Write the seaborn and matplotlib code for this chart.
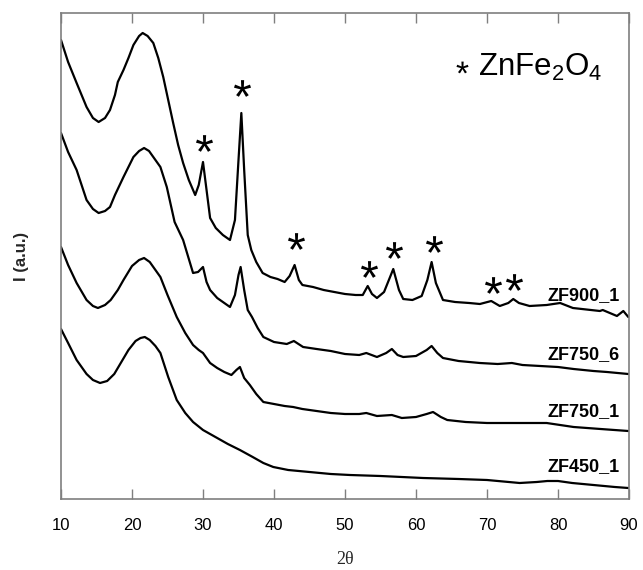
import matplotlib
matplotlib.use("Agg")
import matplotlib.pyplot as plt
import seaborn as sns
import numpy as np
import pandas as pd

# ---------------- data ----------------
tt_900_1 = [10.0, 11.0, 12.2, 13.6, 14.5, 15.3, 16.2, 16.9, 17.6, 18.0, 18.8, 19.5, 20.2, 21.0, 21.5,
            22.2, 23.0, 23.7, 24.4, 25.1, 25.8, 26.5, 27.2, 28.0, 28.9, 29.4, 30.0, 30.5, 31.0, 31.8,
            32.8, 33.8, 34.5, 35.0, 35.4, 35.8, 36.3, 36.8, 37.5, 38.4, 39.5, 40.5, 41.5, 42.2, 42.9,
            43.5, 44.0, 45.5, 47.0, 48.5, 50.0, 51.5, 52.5, 53.2, 53.8, 54.5, 55.5, 56.8, 57.6, 58.2,
            59.5, 60.8, 61.6, 62.2, 62.8, 63.8, 65.5, 67.5, 69.0, 70.6, 71.8, 73.0, 73.7, 74.5, 76.0,
            78.4, 80.3, 82.1, 85.9, 86.3, 88.3, 89.2, 89.9]
ypx_900_1 = [40, 62, 83, 107, 118, 122, 118, 110, 95, 82, 70, 58, 45, 36, 33,
             36, 43, 58, 77, 100, 123, 145, 163, 180, 195, 185, 162, 190, 218, 228,
             235, 240, 220, 160, 113, 170, 235, 250, 262, 273, 277, 279, 282, 276, 265,
             280, 285, 287, 290, 292, 294, 295, 295, 286, 294, 298, 292, 269, 290, 299,
             300, 296, 280, 262, 283, 300, 302, 303, 304, 301, 306, 303, 299, 303, 306,
             305, 303, 308, 311, 310, 316, 311, 317]

tt_750_6 = [10.0, 11.0, 12.2, 13.6, 14.5, 15.3, 16.2, 16.9, 17.6, 18.8, 20.2, 21.0, 21.7, 22.4, 23.3,
            24.0, 24.9, 26.0, 27.2, 28.6, 29.3, 30.0, 30.5, 31.0, 32.0, 33.0, 33.8, 34.5, 35.0, 35.3,
            35.8, 36.3, 36.9, 37.7, 38.5, 40.0, 41.8, 42.8, 44.1, 46.0, 48.0, 50.0, 52.0, 53.0, 54.5,
            55.8, 56.6, 57.4, 58.2, 60.0, 61.5, 62.2, 63.0, 63.8, 66.0, 69.0, 71.5, 73.5, 75.0, 77.5,
            80.0, 82.2, 85.0, 86.9, 89.9]
ypx_750_6 = [133, 152, 170, 200, 209, 213, 211, 207, 195, 177, 157, 151, 148, 151, 160,
             167, 187, 222, 240, 273, 272, 267, 282, 290, 298, 303, 307, 295, 275, 267,
             290, 310, 317, 328, 337, 342, 344, 341, 347, 349, 351, 354, 355, 353, 357,
             353, 349, 355, 357, 356, 350, 346, 353, 358, 361, 363, 364, 363, 365, 366,
             367, 369, 371, 372, 374]

tt_750_1 = [10.0, 11.0, 12.2, 13.6, 14.5, 15.2, 16.2, 17.0, 18.0, 18.8, 20.0, 21.0, 21.7, 22.5, 23.3,
            24.0, 25.0, 26.3, 27.5, 28.6, 29.4, 30.0, 30.5, 31.0, 32.0, 33.0, 34.0, 34.7, 35.2, 35.8,
            36.6, 37.5, 38.5, 40.0, 41.5, 42.7, 44.0, 46.0, 48.0, 50.0, 52.0, 53.0, 54.5, 56.6, 58.0,
            60.0, 61.5, 62.4, 63.5, 64.4, 67.0, 70.0, 72.8, 75.5, 78.4, 82.2, 86.0, 89.9]
ypx_750_1 = [247, 265, 283, 300, 306, 308, 305, 300, 290, 280, 266, 260, 258, 262, 270,
             277, 295, 317, 333, 345, 350, 353, 358, 363, 368, 372, 375, 370, 367, 378,
             385, 394, 402, 404, 406, 407, 409, 411, 413, 414, 414, 413, 416, 415, 418,
             417, 414, 412, 417, 420, 422, 423, 423, 423, 423, 427, 429, 431]

tt_450_1 = [10.0, 11.0, 12.2, 13.6, 14.5, 15.5, 16.5, 17.5, 18.5, 19.5, 20.5, 21.2, 21.8, 22.5, 23.3,
            24.0, 25.1, 26.3, 27.5, 28.6, 30.0, 32.0, 33.5, 35.2, 37.0, 38.5, 39.9, 42.0, 45.0, 48.0,
            50.7, 55.0, 61.0, 66.0, 70.0, 74.6, 77.0, 78.5, 80.0, 82.0, 85.0, 88.0, 89.9]
ypx_450_1 = [329, 343, 360, 374, 380, 383, 381, 374, 362, 350, 341, 338, 337, 340, 346,
             353, 377, 400, 413, 422, 430, 438, 444, 450, 457, 463, 467, 470, 472, 474,
             475, 476, 478, 479, 480, 483, 482, 481, 481, 483, 485, 487, 488]

sample_names = ["ZF900_1", "ZF750_6", "ZF750_1", "ZF450_1"]
label_ypx = [296, 355, 412, 467]

star_tt = [30.1, 35.5, 43.1, 53.4, 56.9, 62.5, 70.8, 73.8]
star_ypx = [143, 88, 241, 269, 250, 244, 285, 282]

legend_text = r"$\mathregular{ZnFe_2O_4}$"
x_ticks = [10, 20, 30, 40, 50, 60, 70, 80, 90]

# convert picture rows to intensity (a.u.)
BASE = 499
def to_int(v):
    return [BASE - p for p in v]

series = [(tt_900_1, to_int(ypx_900_1)), (tt_750_6, to_int(ypx_750_6)),
          (tt_750_1, to_int(ypx_750_1)), (tt_450_1, to_int(ypx_450_1))]

# ---------------- figure ----------------
sns.set_style("white")
plt.rcParams["font.family"] = ["Liberation Sans", "DejaVu Sans"]
plt.rcParams["mathtext.fontset"] = "custom"
plt.rcParams["mathtext.rm"] = "Liberation Sans"
plt.rcParams["mathtext.it"] = "Liberation Sans"

fig = plt.figure(figsize=(6.43, 5.70), dpi=100)
ax = fig.add_axes([61 / 643, 71 / 570, 568 / 643, 486 / 570])

for (tt, inten) in series:
    df = pd.DataFrame({"tt": tt, "I": inten})
    sns.lineplot(data=df, x="tt", y="I", ax=ax, color="black", linewidth=1.6,
                 sort=False, estimator=None)

for name, yp in zip(sample_names, label_ypx):
    ax.text(88.7, BASE - yp, name, ha="right", va="center", fontsize=13,
            fontweight="bold", color="black")

sns.scatterplot(x=star_tt, y=to_int(star_ypx), ax=ax, marker=r"$\mathregular{*}$",
                s=150, color="black", linewidth=0)

# legend-like annotation
sns.scatterplot(x=[66.5], y=[BASE - 67], ax=ax, marker=r"$\mathregular{*}$",
                s=75, color="black", linewidth=0)
ax.text(68.7, BASE - 76, legend_text, ha="left", va="baseline", fontsize=22.5,
        color="black")

ax.set_xlim(10, 90)
ax.set_ylim(0, 486)
ax.set_xticks(x_ticks)
ax.set_xticklabels([str(t) for t in x_ticks], fontsize=12)
ax.set_yticks([])
ax.tick_params(axis="x", direction="in", length=7, width=1, color="#7f7f7f",
               top=True, bottom=True, pad=14, labelcolor="black")
for sp in ax.spines.values():
    sp.set_color("#7f7f7f")
    sp.set_linewidth(1.2)
    sp.set_visible(True)

ax.set_xlabel("2θ", fontsize=13, family=["Liberation Serif", "DejaVu Serif"])
ax.xaxis.set_label_coords(0.5, -0.108)
ax.set_ylabel("I (a.u.)", fontsize=12, fontweight="bold")
ax.yaxis.set_label_coords(-0.056, 0.5)

fig.savefig("out.png", dpi=100)
